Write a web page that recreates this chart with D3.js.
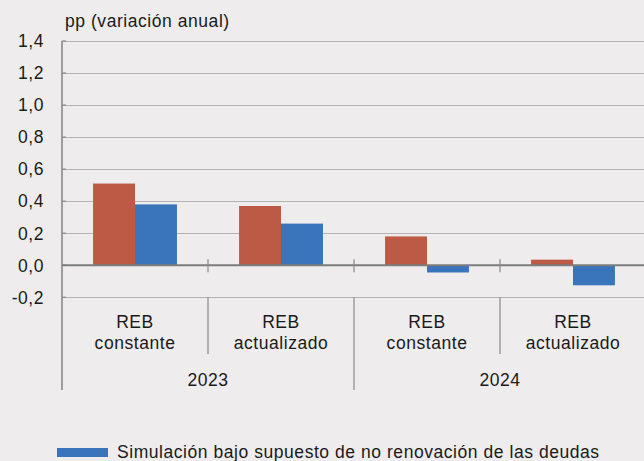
<!DOCTYPE html>
<html>
<head>
<meta charset="utf-8">
<script src="https://cdn.jsdelivr.net/npm/d3@7"></script>
<style>
  html, body { margin: 0; padding: 0; background: #eeeced; }
  svg { display: block; font-family: "Liberation Sans", Arial, sans-serif; }
  svg text { letter-spacing: 0.55px; }
</style>
</head>
<body>
<div id="chart"></div>
<script>
// Datos
const categories = ["REB constante", "REB actualizado", "REB constante", "REB actualizado"];
const catLines = [["REB", "constante"], ["REB", "actualizado"], ["REB", "constante"], ["REB", "actualizado"]];
const years = ["2023", "2024"];
const seriesRed = [0.51, 0.37, 0.18, 0.035];
const seriesBlue = [0.38, 0.26, -0.045, -0.125];
const yTicks = [-0.2, 0, 0.2, 0.4, 0.6, 0.8, 1.0, 1.2, 1.4];
const legendLabel = "Simulación bajo supuesto de no renovación de las deudas";

const width = 644, height = 461;
const margin = {top: 41, left: 62, right: -2};
const plotBottom = 297.3;
const fs = "17.5px";

const svg = d3.select("#chart").append("svg")
    .attr("width", width).attr("height", height);

const x = d3.scaleBand()
    .domain(d3.range(categories.length))
    .range([margin.left, width - margin.right])
    .paddingInner(0).paddingOuter(0);

const y = d3.scaleLinear()
    .domain([-0.2, 1.4])
    .range([plotBottom, margin.top]);

const inner = d3.scaleBand()
    .domain(["red", "blue"])
    .range([0, x.bandwidth()])
    .paddingOuter(0.74).paddingInner(0);

// --- GRILLE ---
svg.append("g")
    .selectAll("line")
    .data(yTicks.filter(t => t !== 0))
    .join("line")
    .attr("x1", margin.left).attr("x2", width)
    .attr("y1", d => Math.round(y(d)) + 0.5).attr("y2", d => Math.round(y(d)) + 0.5)
    .attr("stroke", "#b4b3b3").attr("stroke-width", 1.2);

// Labels Y
svg.append("g")
    .selectAll("text")
    .data(yTicks)
    .join("text")
    .attr("x", 44)
    .attr("y", d => y(d))
    .attr("dy", "0.36em")
    .attr("text-anchor", "end")
    .attr("font-size", fs)
    .attr("fill", "#1a1a1a")
    .text(d => d3.format(".1f")(d).replace(".", ",").replace("−", "-"));

// Titre
svg.append("text")
    .attr("x", 65).attr("y", 27)
    .attr("font-size", fs)
    .attr("fill", "#1a1a1a")
    .text("pp (variación anual)");

// --- BARRES ---
const bars = svg.append("g");
categories.forEach((c, i) => {
    [["red", seriesRed[i], "#bc5a45"], ["blue", seriesBlue[i], "#3a75bc"]].forEach(([k, v, col]) => {
        bars.append("rect")
            .attr("x", x(i) + inner(k))
            .attr("width", inner.bandwidth())
            .attr("y", y(Math.max(0, v)))
            .attr("height", Math.abs(y(v) - y(0)))
            .attr("fill", col);
    });
});

// Axe Y
svg.append("line")
    .attr("x1", margin.left).attr("x2", margin.left)
    .attr("y1", margin.top).attr("y2", 390)
    .attr("stroke", "#8a8a8a").attr("stroke-width", 1.6);

// Ticks Y
svg.append("g")
    .selectAll("line")
    .data(yTicks)
    .join("line")
    .attr("x1", margin.left).attr("x2", margin.left + 4)
    .attr("y1", d => y(d)).attr("y2", d => y(d))
    .attr("stroke", "#8a8a8a").attr("stroke-width", 1.2);

// Ligne zéro
svg.append("line")
    .attr("x1", margin.left).attr("x2", width)
    .attr("y1", y(0)).attr("y2", y(0))
    .attr("stroke", "#7d7d7d").attr("stroke-width", 2);

// Ticks sur la ligne zéro
svg.append("g")
    .selectAll("line")
    .data(d3.range(1, categories.length))
    .join("line")
    .attr("x1", i => x(i)).attr("x2", i => x(i))
    .attr("y1", y(0) - 6).attr("y2", y(0) + 7)
    .attr("stroke", "#8a8a8a").attr("stroke-width", 1.2);

// Séparateurs catégories
svg.append("g")
    .selectAll("line")
    .data(d3.range(1, categories.length))
    .join("line")
    .attr("x1", i => x(i)).attr("x2", i => x(i))
    .attr("y1", plotBottom).attr("y2", i => i % 2 === 0 ? 390 : 354)
    .attr("stroke", "#8a8a8a").attr("stroke-width", 1.2);

// Labels catégories
const catG = svg.append("g");
catLines.forEach((lines, i) => {
    lines.forEach((t, j) => {
        catG.append("text")
            .attr("x", x(i) + x.bandwidth() / 2)
            .attr("y", 328 + j * 21)
            .attr("text-anchor", "middle")
            .attr("font-size", fs)
            .attr("fill", "#1a1a1a")
            .text(t);
    });
});

// Labels années
years.forEach((yr, i) => {
    svg.append("text")
        .attr("x", x(i * 2) + x.bandwidth())
        .attr("y", 386)
        .attr("text-anchor", "middle")
        .attr("font-size", fs)
        .attr("fill", "#1a1a1a")
        .text(yr);
});

// Légende
svg.append("rect")
    .attr("x", 57).attr("y", 448)
    .attr("width", 51).attr("height", 9)
    .attr("fill", "#3a75bc");
svg.append("text")
    .attr("x", 117).attr("y", 458)
    .attr("font-size", fs)
    .attr("fill", "#1a1a1a")
    .text(legendLabel);
</script>
</body>
</html>
